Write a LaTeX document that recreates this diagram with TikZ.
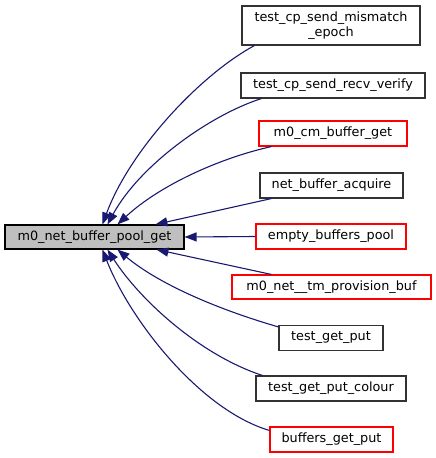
\documentclass[tikz,border=0pt]{standalone}
\usepackage{fontspec}
\setmainfont{DejaVu Sans}
\usetikzlibrary{arrows.meta,calc}
\definecolor{edgeblue}{RGB}{25,25,112}
\definecolor{boxgray}{RGB}{191,191,191}
\definecolor{boxline}{RGB}{50,50,50}
\begin{document}
\begin{tikzpicture}[x=1pt,y=-1pt,
  fn/.style={draw=boxline,line width=1.1pt,fill=white,inner sep=0pt,align=center,
    font=\fontsize{12.8}{14.5}\selectfont,minimum height=25pt},
  redfn/.style={fn,draw=red},
  mainfn/.style={fn,fill=boxgray,draw=black},
  edge/.style={draw=edgeblue,line width=1.1pt,-{Triangle[length=12pt,width=9pt]}}]
\useasboundingbox (0,0) rectangle (436,458);
\node[mainfn,minimum width=179pt,minimum height=24pt] (main) at (94.5,237) {m0\_net\_buffer\_pool\_get};
\node[fn,minimum width=178pt,minimum height=39pt] (n1) at (331,25.5) {test\_cp\_send\_mismatch\\\_epoch};
\node[fn,minimum width=184pt] (n2) at (333,85.5) {test\_cp\_send\_recv\_verify};
\node[redfn,minimum width=148pt] (n3) at (333,133.5) {m0\_cm\_buffer\_get};
\node[fn,minimum width=143pt] (n4) at (331.5,185.5) {net\_buffer\_acquire};
\node[redfn,minimum width=150pt] (n5) at (331,236.5) {empty\_buffers\_pool};
\node[redfn,minimum width=199pt,minimum height=24pt] (n6) at (331.5,287) {m0\_net\_\_tm\_provision\_buf};
\node[fn,minimum width=104pt] (n7) at (331,338) {test\_get\_put};
\node[fn,minimum width=150pt] (n8) at (331,388.5) {test\_get\_put\_colour};
\node[redfn,minimum width=123pt] (n9) at (331.5,439.5) {buffers\_get\_put};

\draw[edge] ($(n1.south west)+(13,0)$) .. controls (200,75) and (130,150) .. ($(main.north west)+(98,0)$);
\draw[edge] ($(n2.south west)+(21,0)$) .. controls (210,115) and (140,165) .. ($(main.north west)+(103,0)$);
\draw[edge] ($(n3.south west)+(13,0)$) .. controls (220,158) and (160,185) .. ($(main.north west)+(113,0)$);
\draw[edge] ($(n4.south west)+(12,0)$) -- ($(main.north west)+(151,0)$);
\draw[edge] (n5.west) -- (main.east);
\draw[edge] ($(n6.north west)+(40,0)$) -- ($(main.south west)+(152,0)$);
\draw[edge] ($(n7.north west)+(0,2)$) .. controls (220,310) and (160,285) .. ($(main.south west)+(113,0)$);
\draw[edge] ($(n8.north west)+(7,0)$) .. controls (200,355) and (140,300) .. ($(main.south west)+(103,0)$);
\draw[edge] ($(n9.north west)+(0,4)$) .. controls (200,410) and (130,320) .. ($(main.south west)+(98,0)$);
\end{tikzpicture}
\end{document}
